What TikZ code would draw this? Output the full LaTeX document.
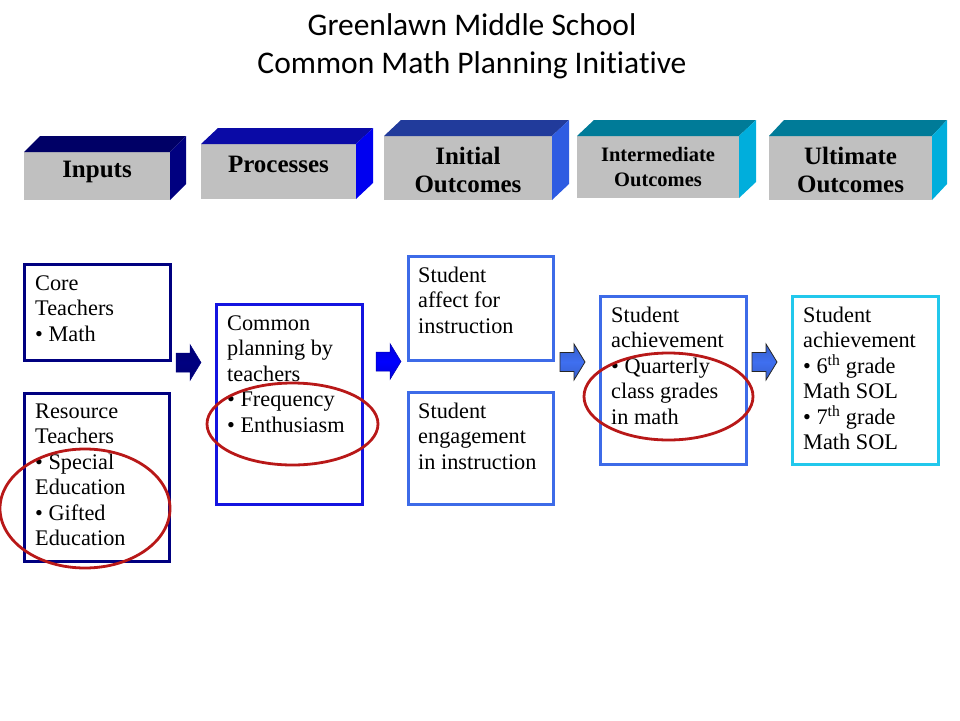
\documentclass[tikz,border=0pt]{standalone}
\usepackage{fontspec}
\setmainfont{Liberation Serif}
\newfontfamily\titlefont[Ligatures=CommonOff]{Carlito}
\usetikzlibrary{shapes.geometric}
\definecolor{navyT}{HTML}{000066}
\definecolor{navyS}{HTML}{000080}
\definecolor{procT}{HTML}{0A0AA6}
\definecolor{procS}{HTML}{0000F0}
\definecolor{initT}{HTML}{213B9B}
\definecolor{initS}{HTML}{2E5CE2}
\definecolor{tealT}{HTML}{007B98}
\definecolor{tealS}{HTML}{00AEDC}
\definecolor{faceG}{HTML}{C0C0C0}
\definecolor{bNavy}{HTML}{000080}
\definecolor{bBlue}{HTML}{1414E0}
\definecolor{bRoyal}{HTML}{3D6BE8}
\definecolor{bCyan}{HTML}{22C8EC}
\definecolor{ringRed}{HTML}{B81818}
\definecolor{arrBlue}{HTML}{3F6FF0}
\newcommand\bodytext[1]{\parbox[t]{140pt}{\raggedright\fontsize{22.3}{25.5}\selectfont #1}}
\tikzset{blockarrow/.pic={\path[pic actions] (-12.5,-9.5) -- (1.5,-9.5) -- (1.5,-18) -- (12.5,0) -- (1.5,18) -- (1.5,9.5) -- (-12.5,9.5) -- cycle;}}
\begin{document}
\begin{tikzpicture}[x=1pt,y=-1pt,
  hface/.style={fill=faceG, inner sep=0, outer sep=0},
  htext/.style={font=\fontsize{25}{28}\selectfont\bfseries, align=center, inner sep=0},
  cbox/.style={draw, line width=3pt, inner sep=0, outer sep=0},
  btext/.style={anchor=base west, inner sep=0},
  ring/.style={ellipse, draw=ringRed, line width=2.8pt, inner sep=0},
  ttl/.style={font=\titlefont\fontsize{31.5}{38}\selectfont, anchor=base, inner sep=0}]
\useasboundingbox (0,0) rectangle (960,720);

% title
\node[ttl] (title1) at (472,35) {Greenlawn Middle School};
\node[ttl] (title2) at (472,73) {Common Math Planning Initiative};

% header blocks
\node[hface, minimum width=146, minimum height=48] (hIn) at (97,176) {};
\fill[navyT] (hIn.north west) -- ++(16,-16) -- ([shift={(16,-16)}]hIn.north east) -- (hIn.north east) -- cycle;
\fill[navyS] (hIn.north east) -- ++(16,-16) -- ([shift={(16,-16)}]hIn.south east) -- (hIn.south east) -- cycle;

\node[hface, minimum width=155, minimum height=55] (hPr) at (278.5,171.5) {};
\fill[procT] (hPr.north west) -- ++(17,-16) -- ([shift={(17,-16)}]hPr.north east) -- (hPr.north east) -- cycle;
\fill[procS] (hPr.north east) -- ++(17,-16) -- ([shift={(17,-16)}]hPr.south east) -- (hPr.south east) -- cycle;

\node[hface, minimum width=168, minimum height=64] (hInit) at (468,168) {};
\fill[initT] (hInit.north west) -- ++(17,-16) -- ([shift={(17,-16)}]hInit.north east) -- (hInit.north east) -- cycle;
\fill[initS] (hInit.north east) -- ++(17,-16) -- ([shift={(17,-16)}]hInit.south east) -- (hInit.south east) -- cycle;

\node[hface, minimum width=162, minimum height=62] (hInt) at (658,167) {};
\fill[tealT] (hInt.north west) -- ++(17,-16) -- ([shift={(17,-16)}]hInt.north east) -- (hInt.north east) -- cycle;
\fill[tealS] (hInt.north east) -- ++(17,-16) -- ([shift={(17,-16)}]hInt.south east) -- (hInt.south east) -- cycle;

\node[hface, minimum width=163, minimum height=64] (hUlt) at (850.5,168) {};
\fill[tealT] (hUlt.north west) -- ++(15,-16) -- ([shift={(15,-16)}]hUlt.north east) -- (hUlt.north east) -- cycle;
\fill[tealS] (hUlt.north east) -- ++(15,-16) -- ([shift={(15,-16)}]hUlt.south east) -- (hUlt.south east) -- cycle;

\node[htext] (hInT) at (97,172) {Inputs};
\node[htext] (hPrT) at (278.5,164) {Processes};
\node[htext] (hInitT) at (468,170) {Initial\\Outcomes};
\node[htext, font=\fontsize{20.5}{25}\selectfont\bfseries] (hIntT) at (658,167.5) {Intermediate\\Outcomes};
\node[htext] (hUltT) at (850.5,170) {Ultimate\\Outcomes};

% content boxes
\node[cbox, draw=bNavy, minimum width=146, minimum height=96] (core) at (97,312) {};
\node[cbox, draw=bNavy, minimum width=145, minimum height=168] (res) at (96.5,477) {};
\node[cbox, draw=bBlue, minimum width=146, minimum height=200] (common) at (289,404) {};
\node[cbox, draw=bRoyal, minimum width=145, minimum height=104] (affect) at (480.5,308) {};
\node[cbox, draw=bRoyal, minimum width=145, minimum height=112] (engage) at (480.5,448) {};
\node[cbox, draw=bRoyal, minimum width=146, minimum height=168] (achieve) at (673,380) {};
\node[cbox, draw=bCyan, minimum width=146, minimum height=168] (ult) at (865,380) {};

\node[btext] (coreT) at ([shift={(11,26)}]core.north west) {\bodytext{Core\\Teachers\\\textbullet{} Math}};
\node[btext] (resT) at ([shift={(11,25)}]res.north west) {\bodytext{Resource\\Teachers\\\textbullet{} Special\\Education\\\textbullet{} Gifted\\Education}};
\node[btext] (commonT) at ([shift={(11,26)}]common.north west) {\bodytext{Common\\planning by\\teachers\\\textbullet{} Frequency\\\textbullet{} Enthusiasm}};
\node[btext] (affectT) at ([shift={(10,26)}]affect.north west) {\bodytext{Student\\affect for\\instruction}};
\node[btext] (engageT) at ([shift={(10,26)}]engage.north west) {\bodytext{Student\\engagement\\in instruction}};
\node[btext] (achieveT) at ([shift={(11,26)}]achieve.north west) {\bodytext{Student\\achievement\\\textbullet{} Quarterly\\class grades\\in math}};
\node[btext] (ultT) at ([shift={(11,26)}]ult.north west) {\bodytext{Student\\achievement\\\textbullet{} 6\textsuperscript{th} grade\\Math SOL\\\textbullet{} 7\textsuperscript{th} grade\\Math SOL}};

% block arrows
\pic[top color=navyS!90!black, bottom color=navyS!90!black, middle color=navyS, draw=navyS, line width=0.5pt] at (188.5,362.5) {blockarrow};
\pic[top color=blue!85!black, bottom color=blue!85!black, middle color=blue, draw=blue!70!black, line width=0.5pt] at (388.5,361.5) {blockarrow};
\pic[top color=arrBlue!85!black, bottom color=arrBlue!85!black, middle color=arrBlue, draw=black!85, line width=0.8pt] at (572.5,362) {blockarrow};
\pic[top color=arrBlue!85!black, bottom color=arrBlue!85!black, middle color=arrBlue, draw=black!85, line width=0.8pt] at (764.5,362) {blockarrow};

% highlight rings
\node[ring, minimum width=170, minimum height=119] (ring1) at (85,508.5) {};
\node[ring, minimum width=171, minimum height=82] (ring2) at (292.5,424) {};
\node[ring, minimum width=169, minimum height=87] (ring3) at (668.5,396.5) {};
\end{tikzpicture}
\end{document}
